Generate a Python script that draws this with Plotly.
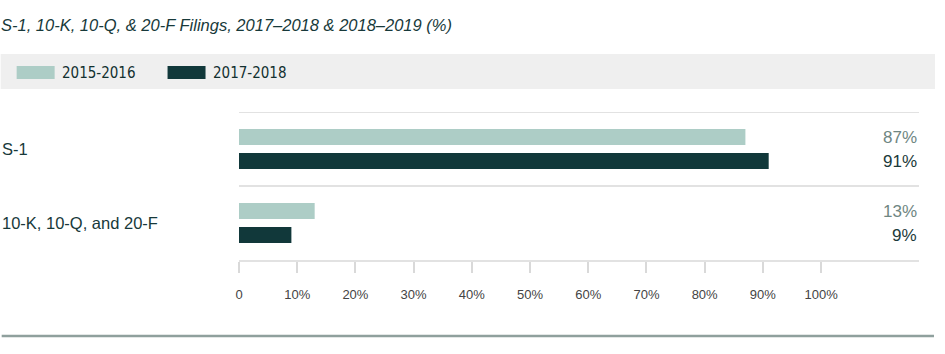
import plotly.graph_objects as go

categories = ["S-1", "10-K, 10-Q, and 20-F"]
series_names = ["2015-2016", "2017-2018"]
values_2015_2016 = [87, 13]
values_2017_2018 = [91, 9]
tick_values = [0, 10, 20, 30, 40, 50, 60, 70, 80, 90, 100]
tick_labels = ["0", "10%", "20%", "30%", "40%", "50%", "60%", "70%", "80%", "90%", "100%"]
title_text = "S-1, 10-K, 10-Q, & 20-F Filings, 2017–2018 & 2018–2019 (%)"

W, H = 945, 354
L, R, T, B = 238.5, 919, 112, 260
colors = ["#adcdc6", "#11383a"]
label_colors = ["#6f8682", "#1b3a3a"]
FONT = "Liberation Sans, Arial, sans-serif"
NARROW = "DejaVu Sans Condensed, Liberation Sans Narrow, sans-serif"


def px(x):
    return (x - L) / (R - L)


def py(y):
    return (B - y) / (B - T)


fig = go.Figure()
series = [values_2015_2016, values_2017_2018]
for name, vals, c in zip(series_names, series, colors):
    fig.add_trace(go.Bar(
        y=categories, x=vals, name=name, orientation="h",
        marker=dict(color=c, line=dict(width=0)),
        hoverinfo="skip", showlegend=False,
    ))

annotations = []
shapes = []

# value labels
for si, vals in enumerate(series):
    for ci, v in enumerate(vals):
        annotations.append(dict(
            x=1, xref="paper", y=categories[ci], yref="y",
            yshift=12 if si == 0 else -12,
            text=f"{v}%", showarrow=False, xanchor="right", yanchor="middle",
            xshift=0, font=dict(family=FONT, size=17, color=label_colors[si]),
        ))

# category labels
for c in categories:
    annotations.append(dict(
        x=px(-1), xref="paper", y=c, yref="y", text=c, showarrow=False,
        xanchor="left", yanchor="middle",
        font=dict(family=FONT, size=16.5, color="#17393a"),
    ))

# title
annotations.append(dict(
    x=px(-2), xref="paper", y=py(25), yref="paper", text=title_text,
    showarrow=False, xanchor="left", yanchor="middle",
    font=dict(family=FONT, size=16.5, color="#17393a", style="italic"),
))

# legend band
shapes.append(dict(type="rect", xref="paper", yref="paper",
                   x0=px(0), x1=px(935), y0=py(89), y1=py(54),
                   fillcolor="#efefef", line=dict(width=0), layer="below"))
sw_x = [16, 167]
txt_x = [59, 210]
for i, name in enumerate(series_names):
    shapes.append(dict(type="rect", xref="paper", yref="paper",
                       x0=px(sw_x[i]), x1=px(sw_x[i] + 38), y0=py(79), y1=py(66),
                       fillcolor=colors[i], line=dict(width=0)))
    annotations.append(dict(
        x=px(txt_x[i]), xref="paper", y=py(73), yref="paper", text=name,
        showarrow=False, xanchor="left", yanchor="middle",
        font=dict(family=NARROW, size=15, color="#12302f"),
    ))

# category separators
for yv in [-0.5, 0.5]:
    shapes.append(dict(type="line", xref="paper", yref="y", x0=0, x1=1,
                       y0=yv, y1=yv, line=dict(color="#e2e2e2", width=2)))

# bottom rule
shapes.append(dict(type="line", xref="paper", yref="paper",
                   x0=px(1), x1=px(934), y0=py(336), y1=py(336),
                   line=dict(color="#8fa09d", width=2.5)))

fig.update_layout(
    width=W, height=H,
    margin=dict(l=L, r=W - R, t=T, b=H - B, pad=0),
    paper_bgcolor="white", plot_bgcolor="white",
    barmode="group", bargap=0.351, bargroupgap=0.333,
    xaxis=dict(range=[0, (R - L) / 5.825], tickvals=tick_values, ticktext=tick_labels,
               showgrid=False, zeroline=False, showline=True, linecolor="#e2e2e2",
               linewidth=2, ticks="outside", ticklen=11, tickwidth=1.5,
               tickcolor="#d9d9d9", ticklabelstandoff=10,
               tickfont=dict(family=FONT, size=13, color="#444444"), fixedrange=True),
    yaxis=dict(range=[1.5, -0.5], showticklabels=False, showgrid=False,
               zeroline=False, showline=False, ticks="", fixedrange=True),
    annotations=annotations, shapes=shapes,
    showlegend=False,
)

fig.write_html("out.html")
